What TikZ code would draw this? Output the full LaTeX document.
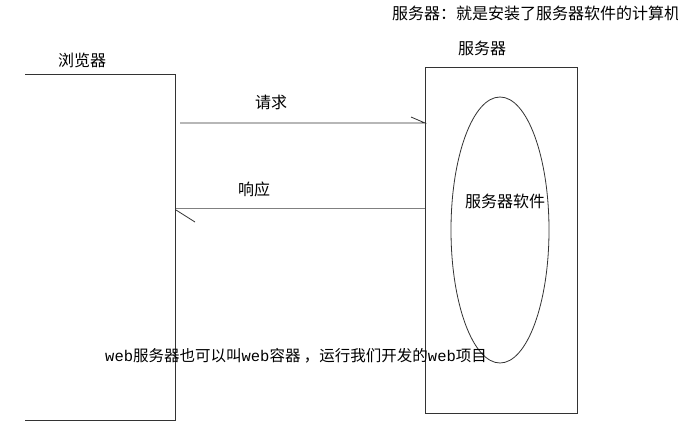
\documentclass[tikz,border=0pt]{standalone}
\usepackage{fontspec}
\usetikzlibrary{shapes.geometric}
\newfontfamily\cjk{Noto Sans CJK SC}
\setmonofont{Liberation Mono}
\begin{document}
\begin{tikzpicture}[x=1pt,y=-1pt,
  lbl/.style={font=\cjk\fontsize{16}{18}\selectfont,inner sep=0pt,anchor=west},
  ln/.style={line width=0.8pt,draw=black!80}]
\clip (0,0) rectangle (678,437);
\fill[white] (0,0) rectangle (678,437);
\coordinate (bt) at (25,74); \coordinate (btr) at (175,74);
\coordinate (bb) at (25,420); \coordinate (bbr) at (175,420);
\draw[ln] (bt) -- (btr) -- (bbr) -- (bb);
\node[draw=black!80,line width=0.8pt,minimum width=152pt,minimum height=346pt,inner sep=0pt] (srv) at (501,240) {};
\node[draw=black!80,line width=0.8pt,ellipse,minimum width=98pt,minimum height=266pt,inner sep=0pt] (sw) at (500,230) {};
\node[lbl] (bl) at (58,60) {浏览器};
\node[lbl] (sl) at (458,48) {服务器};
\node[lbl] (top) at (392,13) {服务器：就是安装了服务器软件的计算机};
\node[lbl] (req) at (255,102) {请求};
\node[lbl] (resp) at (238,189) {响应};
\node[lbl] (swl) at (465,201) {服务器软件};
\node[lbl,font=\cjk\fontsize{15.5}{18}\selectfont] (note) at (105,356) {\ttfamily web\cjk 服务器也可以叫\ttfamily web\cjk 容器 ，运行我们开发的\ttfamily web\cjk 项目};
\coordinate (r1) at (180,123); \coordinate (r2) at (425,123);
\draw[ln] (r1) -- (r2) -- (411,117);
\coordinate (p1) at (425,208); \coordinate (p2) at (176,208);
\draw[ln,draw=black!50] (p1) -- (p2);
\draw[ln] (176,210) -- (195,222);
\end{tikzpicture}
\end{document}
